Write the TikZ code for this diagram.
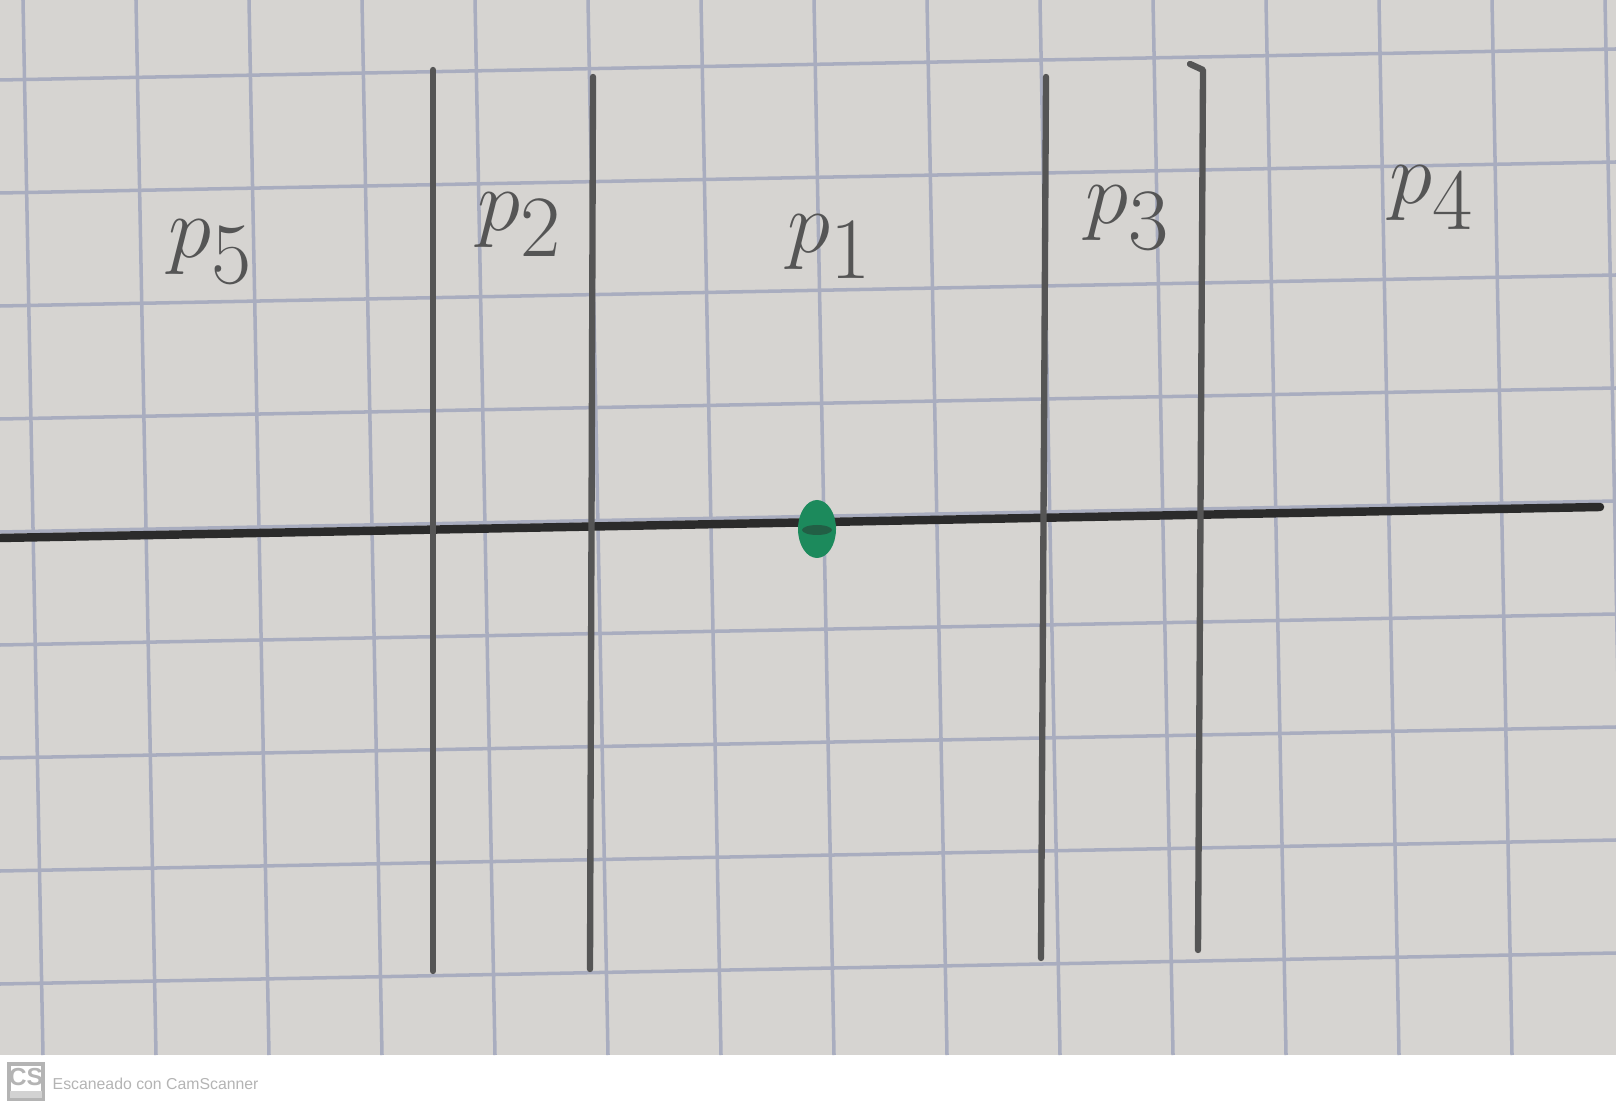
\documentclass[tikz,border=0pt]{standalone}
\usepackage{fontspec}
\setsansfont{Liberation Sans}
\usetikzlibrary{positioning}
\definecolor{paper}{HTML}{D6D4D1}
\definecolor{gridblue}{HTML}{A9ADBF}
\definecolor{pencil}{HTML}{555555}
\definecolor{ink}{HTML}{2B2B2B}
\definecolor{dotgreen}{HTML}{1C8A5C}
\definecolor{scanner}{HTML}{B4B4B4}

\begin{document}
\begin{tikzpicture}[x=0.01cm, y=-0.01cm,
    gridline/.style={gridblue, line width=1pt},
    pencilline/.style={pencil, line width=1.8pt, line cap=round, line join=round},
    region/.style={text=pencil, font=\fontsize{46}{50}\selectfont}]
  \useasboundingbox (0,0) rectangle (1616,1107);
  \fill[white] (0,0) rectangle (1616,1107);
  \fill[paper] (0,0) rectangle (1616,1055);
  % squared paper, slightly rotated
  \begin{scope}
    \clip (0,0) rectangle (1616,1055);
    \foreach \i in {0,...,9}
      \draw[gridline] (0,{80+113*\i}) -- (1616,{49+113*\i});
    \foreach \j in {0,...,14}
      \draw[gridline] ({23+113*\j},0) -- ({43+113*\j},1055);
  \end{scope}
  % the line and the point
  \draw[ink, line width=2.4pt, line cap=round] (0,538) -- (1600,507);
  % boundaries
  \draw[pencilline] (433,70) -- (433,971);
  \draw[pencilline] (593,77) -- (590,969);
  \draw[pencilline] (1046,77) -- (1041,958);
  \draw[pencilline] (1190,64) -- (1203,70) -- (1198,950);
  \fill[dotgreen] (817,529) ellipse [x radius=19, y radius=29];
  \fill[ink, opacity=0.45] (817,530) ellipse [x radius=15, y radius=5];
  % regions
  \node[region] (p5) at (211,252) {$p_5$};
  \node[region] (p2) at (520,225) {$p_2$};
  \node[region] (p1) at (830,247) {$p_1$};
  \node[region] (p3) at (1128,218) {$p_3$};
  \node[region] (p4) at (1432,198) {$p_4$};
  % scanner footer
  \draw[scanner, line width=1.2pt] (9,1064) rectangle (43,1099);
  \fill[scanner!60] (10,1091) rectangle (42,1098);
  \node[text=scanner, font=\sffamily\bfseries\fontsize{7}{8}\selectfont, inner sep=0pt] (logo) at (26,1077) {CS};
  \node[text=scanner, font=\sffamily\fontsize{4.5}{5}\selectfont, anchor=west, inner sep=0pt] (stamp) at (52,1084) {Escaneado con CamScanner};
\end{tikzpicture}
\end{document}
